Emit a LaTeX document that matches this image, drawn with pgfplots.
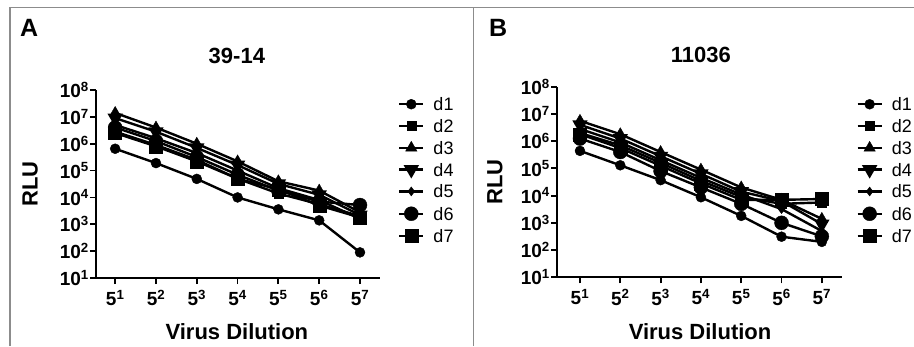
\documentclass[border=0pt]{standalone}
\usepackage{fontspec}
\setmainfont{Liberation Sans}
\usepackage{pgfplots}
\pgfplotsset{compat=1.18}
\definecolor{framegray}{HTML}{8C8C8C}
\pgfplotsset{
 panel/.style={
  scale only axis, anchor=south west,
  ymin=10, ymax=1e8,
  axis x line*=bottom, axis y line*=left,
  axis line style={line width=2pt, -},
  ytick={10,100,1000,1e4,1e5,1e6,1e7,1e8},
  yticklabels={10\textsuperscript{1},10\textsuperscript{2},10\textsuperscript{3},10\textsuperscript{4},10\textsuperscript{5},10\textsuperscript{6},10\textsuperscript{7},10\textsuperscript{8}},
  xtick={1,2,3,4,5,6,7},
  xticklabels={5\textsuperscript{1},5\textsuperscript{2},5\textsuperscript{3},5\textsuperscript{4},5\textsuperscript{5},5\textsuperscript{6},5\textsuperscript{7}},
  yminorticks=false, xminorticks=false,
  tick style={line width=1.8pt, black}, major tick length=6pt, tick align=outside,
  xticklabel style={font=\fontsize{19}{21}\selectfont\bfseries, inner sep=1pt, yshift=-5pt},
  yticklabel style={font=\fontsize{19}{21}\selectfont\bfseries, inner sep=1pt},
  title style={anchor=center, font=\fontsize{22}{24}\selectfont\bfseries},
  label style={font=\fontsize{22}{24}\selectfont\bfseries},
  legend cell align=left,
  legend style={draw=none, fill=none, anchor=north west, inner sep=0pt,
    font=\fontsize{18}{20}\selectfont, row sep=8.8pt,
    nodes={inner sep=0pt, text height=13pt, text depth=0pt},
    /tikz/every odd column/.append style={column sep=9pt}},
  legend image code/.code={\draw[mark repeat=2,mark phase=2] plot coordinates {(0pt,0pt) (12pt,0pt) (24pt,0pt)};},
  every axis plot/.append style={black, line width=2.4pt, mark options={solid, line width=0.4pt}},
 },
 s1/.style={mark=*, mark size=5pt},
 s2/.style={mark=square*, mark size=4.5pt},
 s3/.style={mark=triangle*, mark size=6.5pt},
 s4/.style={mark=triangle*, mark size=6.5pt, mark options={rotate=180}},
 s5/.style={mark=diamond*, mark size=4.5pt},
 s6/.style={mark=*, mark size=7pt},
 s7/.style={mark=square*, mark size=6.5pt},
}
\begin{document}
\begin{tikzpicture}
\useasboundingbox (0,0) rectangle (914pt,346pt);
\draw[framegray, line width=1.3pt] (10pt,0pt) -- (10pt,338.5pt) -- (914pt,338.5pt);
\draw[framegray, line width=1.3pt] (473.5pt,0pt) -- (473.5pt,338.5pt);
\node[anchor=west, inner sep=0pt, font=\fontsize{25}{27}\selectfont\bfseries] at (20pt,318.5pt) {A};
\node[anchor=west, inner sep=0pt, font=\fontsize{25}{27}\selectfont\bfseries] at (489pt,318pt) {B};

\begin{semilogyaxis}[panel, at={(96pt,68pt)}, width=284pt, height=188pt,
  xmin=0.53, xmax=7.49,
  title={39-14}, title style={at={(axis description cs:0.496,1.149)}},
  xlabel={Virus Dilution}, xlabel style={at={(axis description cs:0.496,-0.287)}, anchor=center},
  ylabel={RLU}, ylabel style={at={(axis description cs:-0.232,0.5)}, anchor=center},
  legend style={at={(axis description cs:1.063,0.96)}}]
\addplot[s1] coordinates {(1,6.5e5) (2,1.9e5) (3,4.9e4) (4,1.0e4) (5,3.6e3) (6,1.4e3) (7,90)};
\addplot[s2] coordinates {(1,2.8e6) (2,9e5) (3,2.5e5) (4,5e4) (5,1.4e4) (6,5.6e3) (7,2e3)};
\addplot[s3] coordinates {(1,1.4e7) (2,4e6) (3,1e6) (4,2.2e5) (5,4e4) (6,1.8e4) (7,2.8e3)};
\addplot[s4] coordinates {(1,9e6) (2,2.8e6) (3,7e5) (4,1.6e5) (5,3.2e4) (6,1.25e4) (7,2.2e3)};
\addplot[s5] coordinates {(1,5e6) (2,1.6e6) (3,4.5e5) (4,1e5) (5,2.2e4) (6,8e3) (7,1.6e3)};
\addplot[s6] coordinates {(1,4e6) (2,1.25e6) (3,3.2e5) (4,7e4) (5,1.8e4) (6,7e3) (7,5.2e3)};
\addplot[s7] coordinates {(1,2.5e6) (2,8e5) (3,2.2e5) (4,5e4) (5,2e4) (6,5e3) (7,1.8e3)};
\legend{d1,d2,d3,d4,d5,d6,d7}
\end{semilogyaxis}

\begin{semilogyaxis}[panel, at={(557pt,68.7pt)}, width=285pt, height=190.6pt,
  xmin=0.43, xmax=7.5,
  title={11036}, title style={at={(axis description cs:0.505,1.135)}},
  xlabel={Virus Dilution}, xlabel style={at={(axis description cs:0.502,-0.287)}, anchor=center},
  ylabel={RLU}, ylabel style={at={(axis description cs:-0.218,0.5)}, anchor=center},
  legend style={at={(axis description cs:1.05,0.943)}}]
\addplot[s1] coordinates {(1,4.4e5) (2,1.3e5) (3,3.7e4) (4,8.7e3) (5,1.8e3) (6,310) (7,200)};
\addplot[s2] coordinates {(1,2e6) (2,7e5) (3,1.6e5) (4,3.5e4) (5,9e3) (6,5e3) (7,5.6e3)};
\addplot[s3] coordinates {(1,5.6e6) (2,1.8e6) (3,4e5) (4,9e4) (5,2e4) (6,7e3) (7,1.4e3)};
\addplot[s4] coordinates {(1,4e6) (2,1.25e6) (3,2.8e5) (4,6.3e4) (5,1.4e4) (6,6.3e3) (7,900)};
\addplot[s5] coordinates {(1,2.8e6) (2,9e5) (3,2e5) (4,4.5e4) (5,1.1e4) (6,3.2e3) (7,500)};
\addplot[s6] coordinates {(1,1.25e6) (2,4e5) (3,8e4) (4,2e4) (5,5e3) (6,1e3) (7,320)};
\addplot[s7] coordinates {(1,1.8e6) (2,5.6e5) (3,1.25e5) (4,2.8e4) (5,7e3) (6,7e3) (7,7.5e3)};
\legend{d1,d2,d3,d4,d5,d6,d7}
\end{semilogyaxis}
\end{tikzpicture}
\end{document}
